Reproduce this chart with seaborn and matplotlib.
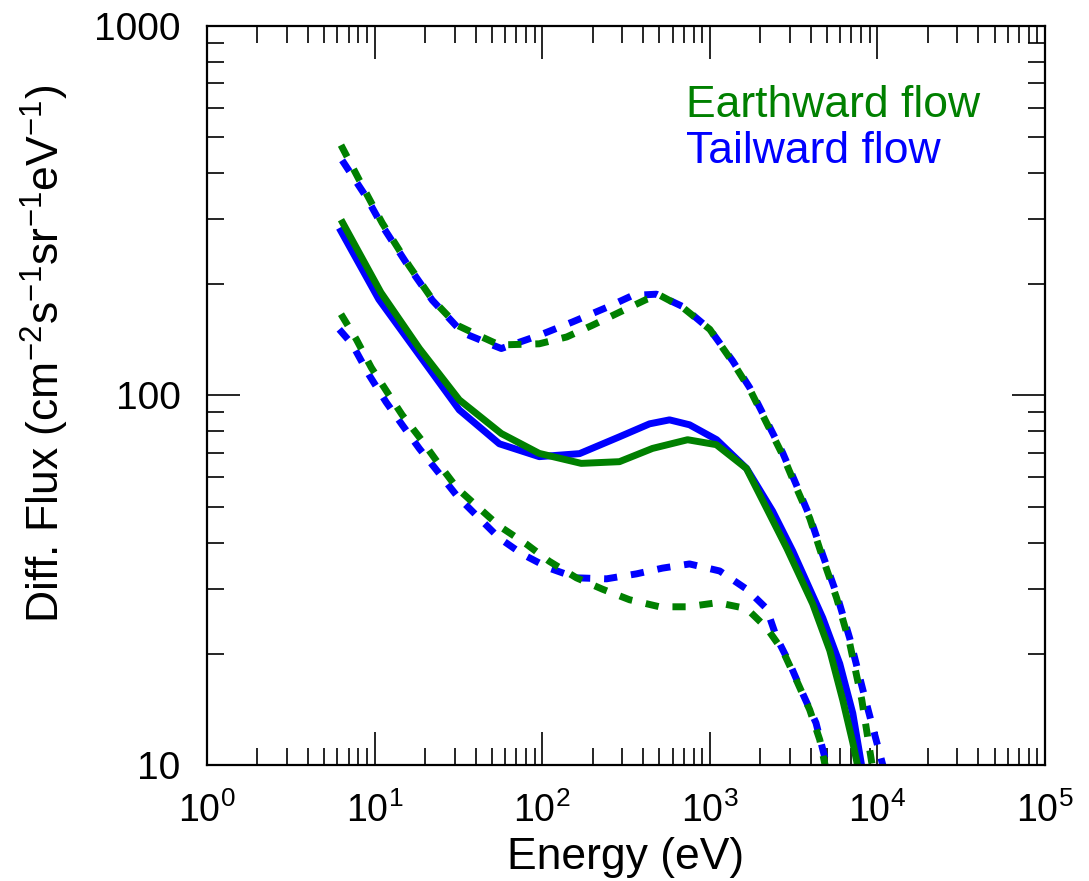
import numpy as np
import pandas as pd
import matplotlib
matplotlib.use('Agg')
import matplotlib.pyplot as plt
import matplotlib.ticker as mticker
import seaborn as sns

# Earthward flow (green)
e_earth_hi = [6.3, 8.9, 11.1, 16.1, 22.1, 31, 42.2, 55.5, 96, 140, 200, 289, 419, 500, 690, 1000, 1370, 1730, 2720, 3300, 3950, 4720, 5710, 6840, 8070, 9300, 10500]
f_earth_hi = [476, 353, 293, 224, 182, 155, 145, 137, 138, 144, 155, 168, 182, 187, 173, 151, 123, 104, 69, 56, 46.5, 36.3, 28.3, 21.3, 15.0, 10.0, 7.5]

e_earth_med = [6.3, 10.9, 18.5, 32, 57, 96, 171, 289, 455, 737, 1093, 1652, 2183, 2880, 4110, 5200, 6210, 7130, 7640, 8500]
f_earth_med = [299, 190, 134, 97.3, 78.9, 69.7, 65.5, 66.2, 71.9, 75.9, 73.6, 63.5, 49.5, 38.6, 27.3, 20.4, 15.0, 11.5, 9.9, 8.0]

e_earth_lo = [6.3, 7.77, 9.55, 11.9, 14.6, 19, 24.3, 31.2, 42.2, 55.5, 80.5, 110, 160, 229, 332, 501, 737, 1113, 1660, 2183, 2723, 3300, 3946, 4530, 4850, 5300]
f_earth_lo = [166, 142, 119, 102, 88.6, 75.9, 65, 56, 49.5, 44.3, 39.6, 35.6, 32.1, 29.9, 28, 26.8, 26.8, 27.5, 26.5, 23.5, 20.4, 16.9, 14.1, 11.7, 10.1, 8.5]

# Tailward flow (blue)
e_tail_hi = [6.4, 8.9, 11.1, 16.1, 22.1, 33.4, 50.4, 57, 96, 151, 242, 346, 481, 690, 1000, 1370, 1730, 2720, 3300, 3950, 4720, 5710, 6840, 8180, 9400, 10770, 12000]
f_tail_hi = [433, 345, 288, 222, 181, 148, 137, 134, 145.5, 158, 173, 186.5, 188, 174, 151, 124, 105, 70, 57, 47, 37, 29, 22, 16, 12.6, 10.0, 8.0]

e_tail_med = [6.15, 10.6, 18.5, 32, 55.5, 96, 167, 289, 437, 575, 757, 1099, 1660, 2371, 3126, 4720, 5960, 7130, 8070, 9000]
f_tail_med = [284, 182, 128.5, 91.4, 74, 68.3, 69.6, 77.3, 83.8, 85.9, 83.3, 75.9, 63.4, 48.6, 37.9, 25.0, 18.8, 13.8, 9.9, 8.0]

e_tail_lo = [6.15, 7.35, 9.28, 11.7, 14.6, 18.5, 24.3, 31.2, 41, 55.5, 76.2, 110, 160, 242, 365, 522, 757, 1145, 1660, 2183, 2506, 3000, 3583, 4300, 4850, 5300]
f_tail_lo = [151, 137.6, 113.5, 96, 83.3, 71.8, 61.5, 53.3, 47.1, 41.1, 37.2, 34.1, 32.1, 31.9, 32.9, 34.1, 35.0, 33.5, 29.9, 26.5, 22.1, 18.8, 15.6, 13.0, 10.5, 8.5]

green = '#008000'
blue = '#0000ff'

sns.set_style('ticks')
plt.rcParams['font.family'] = ['Liberation Sans', 'DejaVu Sans']
plt.rcParams['mathtext.fontset'] = 'custom'
plt.rcParams['mathtext.rm'] = 'Liberation Sans'
plt.rcParams['mathtext.it'] = 'Liberation Sans'
plt.rcParams['text.color'] = 'black'
plt.rcParams['axes.labelcolor'] = 'black'
plt.rcParams['xtick.color'] = 'black'
plt.rcParams['ytick.color'] = 'black'

fig = plt.figure(figsize=(10.89, 8.81), dpi=100)
ax = fig.add_axes([0.1901, 0.1317, 0.7695, 0.8388])

lw = 5
dash = (0, (1.9, 2.0))

# blue first, green on top
sns.lineplot(x=e_tail_hi, y=f_tail_hi, ax=ax, color=blue, lw=lw, linestyle=dash, sort=False)
sns.lineplot(x=e_tail_lo, y=f_tail_lo, ax=ax, color=blue, lw=lw, linestyle=dash, sort=False)
sns.lineplot(x=e_tail_med, y=f_tail_med, ax=ax, color=blue, lw=lw, sort=False)
sns.lineplot(x=e_earth_hi, y=f_earth_hi, ax=ax, color=green, lw=lw, linestyle=dash, sort=False)
sns.lineplot(x=e_earth_lo, y=f_earth_lo, ax=ax, color=green, lw=lw, linestyle=dash, sort=False)
sns.lineplot(x=e_earth_med, y=f_earth_med, ax=ax, color=green, lw=lw, sort=False)

for ln in ax.lines:
    ln.set_solid_capstyle('butt')
    ln.set_dash_capstyle('butt')

ax.set_xscale('log')
ax.set_yscale('log')
ax.set_xlim(1, 1e5)
ax.set_ylim(10, 1000)

ax.xaxis.set_major_locator(mticker.LogLocator(base=10, numticks=10))
ax.xaxis.set_minor_locator(mticker.LogLocator(base=10, subs=np.arange(2, 10), numticks=20))
ax.yaxis.set_major_locator(mticker.FixedLocator([10, 100, 1000]))
ax.yaxis.set_minor_locator(mticker.LogLocator(base=10, subs=np.arange(2, 10), numticks=20))
ax.xaxis.set_minor_formatter(mticker.NullFormatter())
ax.yaxis.set_minor_formatter(mticker.NullFormatter())
ax.xaxis.set_major_formatter(mticker.FuncFormatter(lambda v, p: r'$10^{%d}$' % round(np.log10(v))))
ax.yaxis.set_major_formatter(mticker.FuncFormatter(lambda v, p: '%d' % v))

ax.tick_params(which='both', direction='in', top=True, right=True, width=1.2, colors='black')
ax.tick_params(which='major', length=24)
ax.tick_params(which='minor', length=12)
ax.tick_params(axis='x', which='major', labelsize=27, pad=20)
ax.tick_params(axis='y', which='major', labelsize=28, pad=19)

for s in ax.spines.values():
    s.set_linewidth(1.6)
    s.set_color('black')

ax.set_xlabel('Energy (eV)', fontsize=32)
ax.xaxis.set_label_coords(0.5, -0.097)
ax.set_ylabel(r'Diff. Flux (cm$^{-2}$s$^{-1}$sr$^{-1}$eV$^{-1}$)', fontsize=32, va='center')
ax.yaxis.set_label_coords(-0.193, 0.557)

ax.text(0.572, 1 - (117 - 26) / 739, 'Earthward flow', transform=ax.transAxes,
        color=green, fontsize=32, va='baseline', ha='left')
ax.text(0.572, 1 - (163 - 26) / 739, 'Tailward flow', transform=ax.transAxes,
        color=blue, fontsize=32, va='baseline', ha='left')

fig.savefig('out.png', dpi=100)
